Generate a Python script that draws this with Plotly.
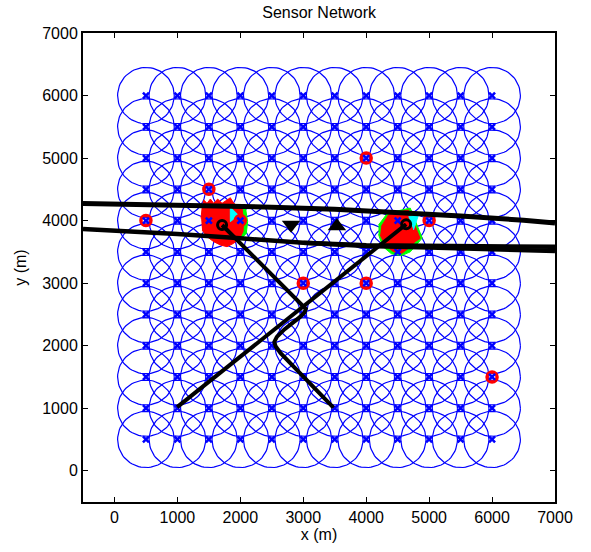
import numpy as np
import plotly.graph_objects as go

# ---------------- data ----------------
grid_vals = [500, 1000, 1500, 2000, 2500, 3000, 3500, 4000, 4500, 5000, 5500, 6000]
sensor_radius = 450

ring_x = [500, 1500, 2000, 4000, 3000, 4000, 6000, 5000]
ring_y = [4000, 4500, 4000, 5000, 3000, 3000, 1500, 4000]

blob1_x = [1376, 1392, 1418, 1471, 1524, 1577, 1640, 1709, 1788, 1841, 1894, 2027, 2053, 2042, 1989, 1894, 1788, 1683, 1577, 1471, 1392]
blob1_y = [4036, 4196, 4329, 4276, 4345, 4276, 4345, 4276, 4329, 4366, 4276, 4196, 3983, 3823, 3717, 3637, 3583, 3610, 3663, 3743, 3850]
green1_x = [1841, 2079, 2116, 2095, 2000, 1841]
green1_y = [4276, 4222, 3983, 3797, 3690, 3663]
cyan1_x = [1841, 1841, 1973]
cyan1_y = [4222, 3983, 4089]

blob2_x = [4238, 4354, 4487, 4672, 4725, 4857, 4778, 4672, 4566, 4434, 4302, 4222]
blob2_y = [3903, 4089, 4132, 4169, 4036, 3717, 3663, 3557, 3477, 3503, 3610, 3770]
green2_x = [4196, 4340, 4700, 4750, 4890, 4700, 4560, 4400, 4260, 4196]
green2_y = [3930, 4120, 4200, 4080, 3720, 3500, 3440, 3470, 3590, 3780]
cyan2_x = [4672, 4831, 4751]
cyan2_y = [4062, 4089, 3850]

trackA_x = [-500, 500, 1500, 2500, 3500, 4500, 5500, 6500, 7000]
trackA_y = [4272, 4258, 4240, 4215, 4180, 4135, 4075, 4005, 3962]

trackB1_x = [-500, 500, 1000, 2000, 3000, 4000, 5000, 6000, 7000]
trackB1_y = [3865, 3823, 3786, 3717, 3645, 3605, 3595, 3588, 3580]
trackB2_x = [3000, 4000, 5000, 6000, 7000]
trackB2_y = [3645, 3595, 3570, 3540, 3512]

trackC_x = [995, 4635]
trackC_y = [1017, 3941]

trackD_x = [1710, 2582, 3010, 3040, 3020, 2950, 2700, 2580, 2540, 2560, 2640, 3480]
trackD_y = [3930, 3060, 2640, 2590, 2530, 2460, 2260, 2140, 2060, 1990, 1880, 1010]

end_x = [1710, 4635]
end_y = [3930, 3941]
tri_down = (2806, 3935)
tri_up = (3535, 3909)

xticks = [0, 1000, 2000, 3000, 4000, 5000, 6000, 7000]
yticks = [0, 1000, 2000, 3000, 4000, 5000, 6000, 7000]

# ---------------- figure ----------------
BLUE = "rgb(0,0,255)"
sx, sy = np.meshgrid(grid_vals, grid_vals)
sx = sx.ravel()
sy = sy.ravel()
th = np.linspace(0, 2 * np.pi, 73)
cx, cy = [], []
for a, b in zip(sx, sy):
    cx.extend(list(a + sensor_radius * np.cos(th)) + [None])
    cy.extend(list(b + sensor_radius * np.sin(th)) + [None])

fig = go.Figure()
fig.add_trace(go.Scatter(x=cx, y=cy, mode="lines", line=dict(color=BLUE, width=1.2), hoverinfo="skip"))

def poly(xs, ys, color):
    fig.add_trace(go.Scatter(x=xs, y=ys, mode="lines", fill="toself", fillcolor=color,
                             line=dict(color=color, width=1), hoverinfo="skip"))

poly(green1_x, green1_y, "rgb(0,255,0)")
poly(green2_x, green2_y, "rgb(0,255,0)")
poly(blob1_x, blob1_y, "rgb(255,0,0)")
poly(blob2_x, blob2_y, "rgb(255,0,0)")
poly(cyan1_x, cyan1_y, "rgb(0,255,255)")
poly(cyan2_x, cyan2_y, "rgb(0,255,255)")

fig.add_trace(go.Scatter(x=ring_x, y=ring_y, mode="markers",
                         marker=dict(symbol="circle-open", size=10, color="rgb(255,0,0)",
                                     line=dict(width=3.5, color="rgb(255,0,0)"))))
fig.add_trace(go.Scatter(x=sx, y=sy, mode="markers",
                         marker=dict(symbol="x-thin", size=6, color=BLUE,
                                     line=dict(width=2.5, color=BLUE))))

for xs, ys, w in [(trackA_x, trackA_y, 5), (trackB1_x, trackB1_y, 4.5), (trackB2_x, trackB2_y, 4.5),
                  (trackC_x, trackC_y, 4), (trackD_x, trackD_y, 4)]:
    fig.add_trace(go.Scatter(x=xs, y=ys, mode="lines", line=dict(color="black", width=w)))

fig.add_trace(go.Scatter(x=end_x, y=end_y, mode="markers",
                         marker=dict(symbol="circle-open", size=9, color="black",
                                     line=dict(width=3, color="black"))))
fig.add_trace(go.Scatter(x=[tri_down[0]], y=[tri_down[1]], mode="markers",
                         marker=dict(symbol="triangle-down", size=16, color="black")))
fig.add_trace(go.Scatter(x=[tri_up[0]], y=[tri_up[1]], mode="markers",
                         marker=dict(symbol="triangle-up", size=16, color="black")))

font = "Liberation Sans, Arial, Helvetica, sans-serif"
axis_common = dict(showgrid=False, zeroline=False, showline=True, linecolor="black", linewidth=2,
                   ticks="inside", ticklen=5, tickwidth=1, tickcolor="black", mirror="allticks",
                   tickfont=dict(family=font, size=16, color="black"))
fig.update_xaxes(range=[-500, 7000], tickvals=xticks, ticktext=[str(v) for v in xticks],
                 title=dict(text="x (m)", font=dict(family=font, size=16, color="black"), standoff=4),
                 **axis_common)
fig.update_yaxes(range=[-500, 7000], tickvals=yticks, ticktext=[str(v) for v in yticks],
                 title=dict(text="y (m)", font=dict(family=font, size=16, color="black"), standoff=12),
                 **axis_common)
fig.update_layout(
    width=591, height=552,
    margin=dict(l=83, r=36, t=33, b=50),
    plot_bgcolor="white", paper_bgcolor="white",
    showlegend=False,
    title=dict(text="Sensor Network", x=0.54, xanchor="center", y=1 - 12 / 552, yanchor="middle",
               yref="container", font=dict(family=font, size=16, color="black")),
)
fig.write_html("out.html")
